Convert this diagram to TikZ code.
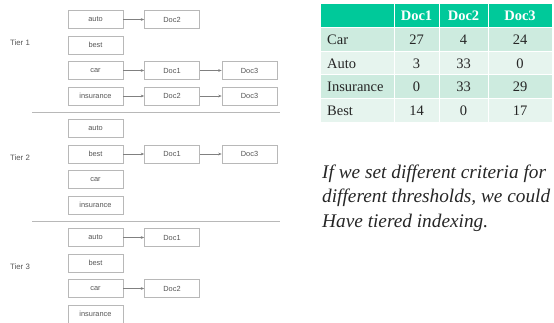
\documentclass[tikz,border=0pt]{standalone}
\usepackage{fontspec}
\setmainfont{Liberation Serif}
\newfontfamily\boxfont{Liberation Sans}
\usetikzlibrary{arrows.meta}
\definecolor{hdr}{HTML}{00C99A}
\definecolor{rowA}{HTML}{CDEBDF}
\definecolor{rowB}{HTML}{E6F4EE}
\definecolor{boxline}{HTML}{B8B8B8}
\definecolor{boxtext}{HTML}{555555}
\definecolor{arrowc}{HTML}{808080}
\tikzset{
  termbox/.style={draw=boxline, line width=0.6pt, fill=white, minimum width=55pt, minimum height=18pt, inner sep=0pt, font=\boxfont\fontsize{7.4}{8}\selectfont, text=boxtext},
  link/.style={draw=arrowc, line width=0.6pt, -{Stealth[length=3.5pt,width=2.8pt]}},
  tierlbl/.style={anchor=west, inner sep=0pt, font=\boxfont\fontsize{7.8}{9}\selectfont, text=boxtext},
  sepline/.style={draw=boxline, line width=0.8pt},
  hdrcell/.style={fill=hdr, draw=none},
  cellA/.style={fill=rowA, draw=none},
  cellB/.style={fill=rowB, draw=none},
  hdrtext/.style={font=\bfseries\fontsize{14.5}{16}\selectfont, text=white},
  celltext/.style={font=\fontsize{14.5}{16}\selectfont, text=black!85},
  captext/.style={anchor=base west, inner sep=0pt, font=\itshape\fontsize{19.3}{23}\selectfont, text=black!85},
}
\begin{document}
\begin{tikzpicture}[x=1pt,y=-1pt]
\useasboundingbox (0,0) rectangle (554,323);
\begin{scope}
\clip (0,0) rectangle (554,323);
% Tier 1
\node[tierlbl] (t1) at (10,43) {Tier 1};
\node[termbox] (a1) at (95.5,19.5) {auto};
\node[termbox] (b1) at (95.5,45) {best};
\node[termbox] (c1) at (95.5,70.5) {car};
\node[termbox] (i1) at (95.5,96) {insurance};
\node[termbox] (a1d2) at (172,19.5) {Doc2};
\node[termbox] (c1d1) at (172,70.5) {Doc1};
\node[termbox] (c1d3) at (249.5,70.5) {Doc3};
\node[termbox] (i1d2) at (172,96) {Doc2};
\node[termbox] (i1d3) at (249.5,96) {Doc3};
\draw[link] (a1) -- (a1d2);
\draw[link] (c1) -- (c1d1);
\draw[link] (c1d1) -- (c1d3);
\draw[link] (i1) -- (i1d2);
\draw[link] (i1d2) -- (i1d3);
\coordinate (s1l) at (32,112);
\coordinate (s1r) at (280,112);
\draw[sepline] (s1l) -- (s1r);
% Tier 2
\node[tierlbl] (t2) at (10,158) {Tier 2};
\node[termbox] (a2) at (95.5,128.5) {auto};
\node[termbox] (b2) at (95.5,154) {best};
\node[termbox] (c2) at (95.5,179.5) {car};
\node[termbox] (i2) at (95.5,205) {insurance};
\node[termbox] (b2d1) at (172,154) {Doc1};
\node[termbox] (b2d3) at (249.5,154) {Doc3};
\draw[link] (b2) -- (b2d1);
\draw[link] (b2d1) -- (b2d3);
\coordinate (s2l) at (32,221);
\coordinate (s2r) at (280,221);
\draw[sepline] (s2l) -- (s2r);
% Tier 3
\node[tierlbl] (t3) at (10,267) {Tier 3};
\node[termbox] (a3) at (95.5,237.5) {auto};
\node[termbox] (b3) at (95.5,263) {best};
\node[termbox] (c3) at (95.5,288.5) {car};
\node[termbox] (i3) at (95.5,314) {insurance};
\node[termbox] (a3d1) at (172,237.5) {Doc1};
\node[termbox] (c3d2) at (172,288.5) {Doc2};
\draw[link] (a3) -- (a3d1);
\draw[link] (c3) -- (c3d2);
\end{scope}
% Table
\fill[hdrcell] (321,4) rectangle (393.5,27);
\fill[hdrcell] (394.5,4) rectangle (438.5,27);
\fill[hdrcell] (439.5,4) rectangle (487.5,27);
\fill[hdrcell] (488.5,4) rectangle (552,27);
\foreach \yt/\yb/\st in {28.5/51.2/cellA, 52.2/74.5/cellB, 75.5/98/cellA, 99/122/cellB}{
  \fill[\st] (321,\yt) rectangle (393.5,\yb);
  \fill[\st] (394.5,\yt) rectangle (438.5,\yb);
  \fill[\st] (439.5,\yt) rectangle (487.5,\yb);
  \fill[\st] (488.5,\yt) rectangle (552,\yb);
}
\node[hdrtext] (h1) at (416.5,16) {Doc1};
\node[hdrtext] (h2) at (463.5,16) {Doc2};
\node[hdrtext] (h3) at (520,16) {Doc3};
\node[celltext, anchor=west, inner sep=0pt] (r1) at (327,40) {Car};
\node[celltext, anchor=west, inner sep=0pt] (r2) at (327,63.5) {Auto};
\node[celltext, anchor=west, inner sep=0pt] (r3) at (327,87) {Insurance};
\node[celltext, anchor=west, inner sep=0pt] (r4) at (327,110.5) {Best};
\node[celltext] (v11) at (416.5,40) {27};
\node[celltext] (v12) at (463.5,40) {4};
\node[celltext] (v13) at (520,40) {24};
\node[celltext] (v21) at (416.5,63.5) {3};
\node[celltext] (v22) at (463.5,63.5) {33};
\node[celltext] (v23) at (520,63.5) {0};
\node[celltext] (v31) at (416.5,87) {0};
\node[celltext] (v32) at (463.5,87) {33};
\node[celltext] (v33) at (520,87) {29};
\node[celltext] (v41) at (416.5,110.5) {14};
\node[celltext] (v42) at (463.5,110.5) {0};
\node[celltext] (v43) at (520,110.5) {17};
% Caption
\node[captext] (cap1) at (322,178.5) {If we set different criteria for};
\node[captext] (cap2) at (322,203) {different thresholds, we could};
\node[captext] (cap3) at (322,227.5) {Have tiered indexing.};
\end{tikzpicture}
\end{document}
